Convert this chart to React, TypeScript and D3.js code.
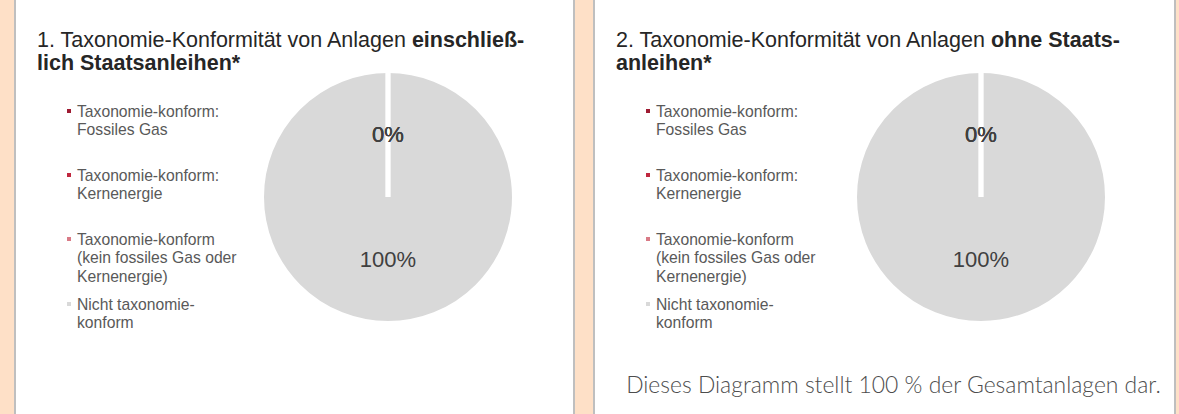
import React from "react";
import * as d3 from "d3";

const W = 1179;
const H = 414;

const categories = [
  ["Taxonomie-konform:", "Fossiles Gas"],
  ["Taxonomie-konform:", "Kernenergie"],
  ["Taxonomie-konform", "(kein fossiles Gas oder", "Kernenergie)"],
  ["Nicht taxonomie-", "konform"],
];
const categoryColors = ["#9e1b32", "#c0283f", "#d97a86", "#d9d9d9"];

const valuesWithBonds = [0, 0, 0, 100];
const valuesWithoutBonds = [0, 0, 0, 100];

const titlesRegular = ["1. Taxonomie-Konformität von Anlagen ", "2. Taxonomie-Konformität von Anlagen "];
const titlesBold1 = ["einschließ-", "ohne Staats-"];
const titlesBold2 = ["lich Staatsanleihen*", "anleihen*"];
const footerText = "Dieses Diagramm stellt 100 % der Gesamtanlagen dar.";

const panels = [
  { x0: 15, x1: 574, cx: 388, values: valuesWithBonds },
  { x0: 594, x1: 1175, cx: 981, values: valuesWithoutBonds },
];

const PIE_CY = 197;
const PIE_R = 125;

function Panel({ idx }: { idx: number }) {
  const p = panels[idx];
  const pie = d3.pie<number>().sort(null).value((d) => d);
  const arcs = pie(p.values);
  const arc = d3.arc<d3.PieArcDatum<number>>().innerRadius(0).outerRadius(PIE_R);
  const labelArc = d3.arc<d3.PieArcDatum<number>>().innerRadius(0).outerRadius(PIE_R);
  const tx = p.x0 + 22;
  const legendX = p.x0 + 52;
  const legendStarts = [111, 175, 239, 304];
  const lineH = 18.5;
  return (
    <g>
      <rect x={p.x0} y={-2} width={p.x1 - p.x0} height={H + 4} fill="#ffffff" stroke="#bfbfbf" strokeWidth={2} />
      <text x={tx} y={47} fontFamily="'Liberation Sans', Arial, sans-serif" fontSize={21.5} fill="#262626">
        <tspan>{titlesRegular[idx]}</tspan>
        <tspan fontWeight="bold">{titlesBold1[idx]}</tspan>
      </text>
      <text x={tx} y={70} fontFamily="'Liberation Sans', Arial, sans-serif" fontSize={21.5} fill="#262626" fontWeight="bold">
        {titlesBold2[idx]}
      </text>
      {categories.map((lines, i) => (
        <g key={i}>
          <rect x={legendX} y={legendStarts[i] - 2} width={4} height={4} fill={categoryColors[i]} />
          {lines.map((ln, j) => (
            <text
              key={j}
              x={legendX + 10}
              y={legendStarts[i] + j * lineH + 5.5}
              fontFamily="'Liberation Sans', Arial, sans-serif"
              fontSize={15.7}
              fill="#595959"
            >
              {ln}
            </text>
          ))}
        </g>
      ))}
      <g transform={`translate(${p.cx},${PIE_CY})`}>
        {arcs.map((a, i) => (
          <path key={i} d={arc(a) || ""} fill={categoryColors[i]} stroke="#ffffff" strokeWidth={2} strokeLinejoin="round" />
        ))}
        {arcs.map((a, i) => {
          const ang = a.startAngle;
          return (
            <line
              key={"s" + i}
              x1={0}
              y1={0}
              x2={Math.sin(ang) * (PIE_R + 1)}
              y2={-Math.cos(ang) * (PIE_R + 1)}
              stroke="#ffffff"
              strokeWidth={4.5}
            />
          );
        })}
        {arcs.map((a, i) => {
          const [lx, ly] = labelArc.centroid(a);
          return (
            <text
              key={"l" + i}
              x={lx}
              y={ly}
              textAnchor="middle"
              dominantBaseline="central"
              fontFamily="'Liberation Sans', Arial, sans-serif"
              fontSize={22}
              fill="#404040"
            >
              {`${d3.format(".0f")(a.data)}%`}
            </text>
          );
        })}
      </g>
    </g>
  );
}

export default function App() {
  return (
    <svg width={W} height={H} style={{ position: "absolute", left: 0, top: 0, display: "block" }}>
      <rect x={0} y={0} width={W} height={H} fill="#fee0c7" />
      <Panel idx={0} />
      <Panel idx={1} />
      <text
        x={893.5}
        y={393}
        textAnchor="middle"
        fontFamily="Lato, sans-serif"
        fontWeight={300}
        fontSize={22.9}
        fill="#4d4d4d"
      >
        {footerText}
      </text>
    </svg>
  );
}
